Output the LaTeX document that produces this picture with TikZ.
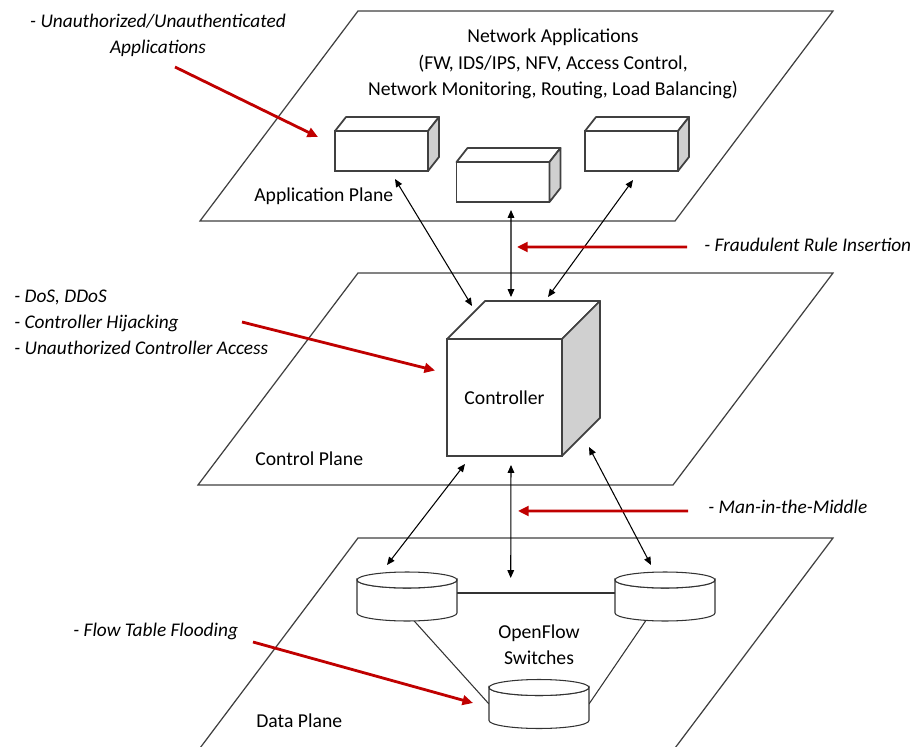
\documentclass[tikz,border=0pt]{standalone}
\usepackage{fontspec}
\setmainfont{Carlito}
\usetikzlibrary{arrows.meta}
\usetikzlibrary{calc}

\definecolor{threatred}{RGB}{192,0,0}
\definecolor{edgegray}{RGB}{64,64,64}
\definecolor{sidegray}{RGB}{208,208,208}

\tikzset{
  plane/.style={draw=edgegray, line width=0.7pt, fill=white},
  planelabel/.style={inner sep=0pt, anchor=west},
  appbox/.style={draw=edgegray, line width=1pt, fill=white, inner sep=0pt, outer sep=0pt,
    minimum width=1.86cm, minimum height=0.8cm},
  ctrlbox/.style={draw=edgegray, line width=0.9pt, fill=white, inner sep=0pt, outer sep=0pt,
    minimum width=2.3cm, minimum height=2.34cm},
  boxtop/.style={draw=edgegray, line width=1pt, fill=white, line join=round},
  boxside/.style={draw=edgegray, line width=1pt, fill=sidegray, line join=round},
  switch/.style={inner sep=0pt, outer sep=0pt, minimum width=2cm, minimum height=0.66cm},
  swface/.style={draw=black!80, line width=0.6pt, fill=white},
  wire/.style={draw=black!80, line width=0.6pt},
  dataflow/.style={{Triangle[length=4.5pt,width=3.8pt]}-{Triangle[length=4.5pt,width=3.8pt]},
    line width=0.6pt},
  threat/.style={inner sep=0pt, font=\fontsize{11}{14.7}\selectfont\itshape},
  threatarrow/.style={-{Triangle[length=6pt,width=5.5pt]}, color=threatred, line width=1.6pt}
}

\begin{document}
\begin{tikzpicture}[x=0.02cm, y=-0.02cm, font=\fontsize{11.2}{15}\selectfont]
  \useasboundingbox (0,0) rectangle (917,747);

  % the three planes
  \draw[plane] (358,11) -- (833,11) -- (675,221) -- (200,221) -- cycle;
  \draw[plane] (358,273) -- (833,273) -- (673,485) -- (198,485) -- cycle;
  \draw[plane] (358,538) -- (833,538) -- (666,760) -- (191,760) -- cycle;

  \node[planelabel] (appplane) at (254,196) {Application Plane};
  \node[planelabel] (ctrlplane) at (255,459) {Control Plane};
  \node[planelabel] (dataplane) at (256,721) {Data Plane};

  % application plane
  \node[align=center] (netapps) at (553,64) {Network Applications\\(FW, IDS/IPS, NFV, Access Control,\\Network Monitoring, Routing, Load Balancing)};
  \node[appbox] (app1) at (381.5,151) {};
  \node[appbox] (app2) at (503,182) {};
  \node[appbox] (app3) at (631.5,151) {};
  \foreach \b in {app1,app2,app3} {
    \draw[boxtop] (\b.north west) -- ++(11,-14) -- ($(\b.north east)+(11,-14)$) -- (\b.north east) -- cycle;
    \draw[boxside] (\b.north east) -- ++(11,-14) -- ($(\b.south east)+(11,-14)$) -- (\b.south east) -- cycle;
  }

  % control plane
  \node[ctrlbox] (ctrl) at (504.5,397.5) {Controller};
  \draw[boxtop] (ctrl.north west) -- ++(38,-38) -- ($(ctrl.north east)+(38,-38)$) -- (ctrl.north east) -- cycle;
  \draw[boxside] (ctrl.north east) -- ++(38,-38) -- ($(ctrl.south east)+(38,-38)$) -- (ctrl.south east) -- cycle;

  % data plane
  \node[switch] (sw1) at (407,596.5) {};
  \node[switch] (sw2) at (665,596.5) {};
  \node[switch] (sw3) at (539,704) {};
  \draw[wire] ([yshift=0.07cm]sw1.east) -- node[coordinate, pos=0.34] (link) {} ([yshift=0.07cm]sw2.west);
  \draw[wire] (sw1.south) -- (sw3.west);
  \draw[wire] ([xshift=-0.28cm]sw2.south) -- (sw3.east);
  \foreach \s in {sw1,sw2,sw3} {
    \draw[swface] (\s.north west) -- (\s.south west)
      arc[start angle=180, end angle=360, x radius=1cm, y radius=0.16cm]
      -- (\s.north east) arc[start angle=0, end angle=-180, x radius=1cm, y radius=0.16cm] -- cycle;
    \draw[swface] (\s.north) ellipse[x radius=1cm, y radius=0.16cm];
  }
  \node[align=center] (ofs) at (539,645) {OpenFlow\\Switches};

  % links between the planes
  \draw[dataflow] ([shift={(-32.5,-33)}]ctrl.north) -- ([shift={(13.5,8)}]app1.south);
  \draw[dataflow] ([shift={(6.5,-42)}]ctrl.north) -- ([shift={(8,8)}]app2.south);
  \draw[dataflow] ([shift={(43.5,-42)}]ctrl.north) -- ([shift={(1.5,9)}]app3.south);
  \draw[dataflow] ([shift={(-39.5,8)}]ctrl.south) -- ([shift={(-20,-15)}]sw1.north);
  \draw[dataflow] ([shift={(6.5,9)}]ctrl.south) -- ([yshift=0.3cm]link);
  \draw[dataflow] ([shift={(27,-9)}]ctrl.south east) -- ([shift={(-14,-15)}]sw2.north);

  % attacks
  \node[threat, align=center] (tapps) at (158,35) {- Unauthorized/Unauthenticated\\Applications};
  \node[threat, align=left, anchor=west] (tctrl) at (14,322) {- DoS, DDoS\\- Controller Hijacking\\- Unauthorized Controller Access};
  \node[threat, anchor=west] (trule) at (704,245) {- Fraudulent Rule Insertion};
  \node[threat, anchor=west] (tmitm) at (708,507) {- Man-in-the-Middle};
  \node[threat, anchor=west] (tflood) at (73,631) {- Flow Table Flooding};

  \coordinate (s1) at (175,67);
  \coordinate (s2) at (242,322);
  \coordinate (s3) at (687,247);
  \coordinate (s4) at (688,511);
  \coordinate (s5) at (253,642);
  \draw[threatarrow] (s1) -- ([shift={(-17,-14)}]app1.west);
  \draw[threatarrow] (s2) -- ([shift={(-12,-27)}]ctrl.west);
  \draw[threatarrow] (s3) -- ([shift={(14,45)}]app2.south);
  \draw[threatarrow] (s4) -- ([shift={(13.5,55)}]ctrl.south);
  \draw[threatarrow] (s5) -- ([shift={(-16,-1)}]sw3.west);
\end{tikzpicture}
\end{document}
